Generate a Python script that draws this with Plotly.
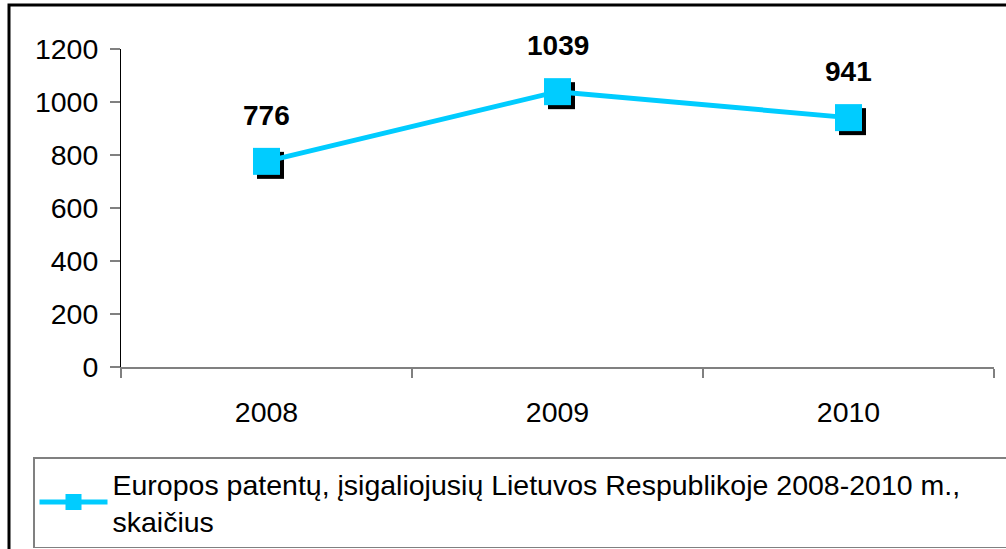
import plotly.graph_objects as go

years = [2008, 2009, 2010]
values = [776, 1039, 941]
series_name = "Europos patentų, įsigaliojusių Lietuvos Respublikoje 2008-2010 m.,<br>skaičius"
y_ticks = [0, 200, 400, 600, 800, 1000, 1200]

W, H = 1006, 549
ML, MR, MT, MB = 121, 12, 49, 182
plot_w = W - ML - MR
plot_h = H - MT - MB
x_range = [years[0] - 0.5, years[-1] + 0.5]
y_range = [0, 1200]

# shadow offset of 4 px converted to data units
dx = 4 * (x_range[1] - x_range[0]) / plot_w
dy = 4 * (y_range[1] - y_range[0]) / plot_h

CYAN = "#00CCFF"
FONT = "Liberation Sans, Arial, sans-serif"

fig = go.Figure()
fig.add_trace(go.Scatter(
    x=[v + dx for v in years], y=[v - dy for v in values],
    mode="markers", marker=dict(symbol="square", size=27, color="black"),
    showlegend=False, hoverinfo="skip", cliponaxis=False,
))
fig.add_trace(go.Scatter(
    x=years, y=values, mode="lines+markers", name=series_name,
    line=dict(color=CYAN, width=5),
    marker=dict(symbol="square", size=27, color=CYAN),
    cliponaxis=False,
))

for xv, yv in zip(years, values):
    fig.add_annotation(x=xv, y=yv, text=f"<b>{yv}</b>", showarrow=False,
                       yanchor="middle", yshift=46,
                       font=dict(size=28, color="black", family=FONT))

# outer frame
fig.add_shape(type="rect", xref="paper", yref="paper",
              x0=(9 - ML) / plot_w, x1=(W + 20 - ML) / plot_w,
              y0=-(MB + 20) / plot_h, y1=(H - MB - 5) / plot_h,
              line=dict(color="black", width=3), layer="below")

fig.update_layout(
    width=W, height=H,
    margin=dict(l=ML, r=MR, t=MT, b=MB, autoexpand=False),
    paper_bgcolor="white", plot_bgcolor="white",
    font=dict(family=FONT, size=28, color="black"),
    xaxis=dict(
        range=x_range, tickmode="array", tickvals=years,
        ticktext=[str(y) for y in years], ticks="", showgrid=False,
        zeroline=False, showline=True, linecolor="#808080", linewidth=2,
        ticklabelstandoff=19, automargin=False,
        minor=dict(tickmode="linear", tick0=x_range[0], dtick=1,
                   ticks="outside", ticklen=9, tickcolor="#808080",
                   tickwidth=1.5, showgrid=False),
        tickfont=dict(size=28.5, family=FONT, color="black"),
    ),
    yaxis=dict(
        range=y_range, tickmode="array", tickvals=y_ticks,
        ticks="outside", ticklen=10, tickcolor="#808080", tickwidth=2,
        showgrid=False, zeroline=False, showline=True, automargin=False,
        linecolor="#000000", linewidth=1, ticklabelstandoff=6,
        tickfont=dict(size=28.5, family=FONT, color="black"),
    ),
    legend=dict(
        x=(33 - ML) / plot_w, y=-(457 - (H - MB)) / plot_h,
        xanchor="left", yanchor="top", orientation="h",
        entrywidth=940, entrywidthmode="pixels",
        bordercolor="#808080", borderwidth=1.5, bgcolor="white",
        font=dict(size=28.5, family=FONT, color="black"),
        itemwidth=68, tracegroupgap=0,
    ),
    showlegend=True,
)

fig.write_html("out.html", config={"displayModeBar": False},
               post_script="document.body.style.margin='0';")
